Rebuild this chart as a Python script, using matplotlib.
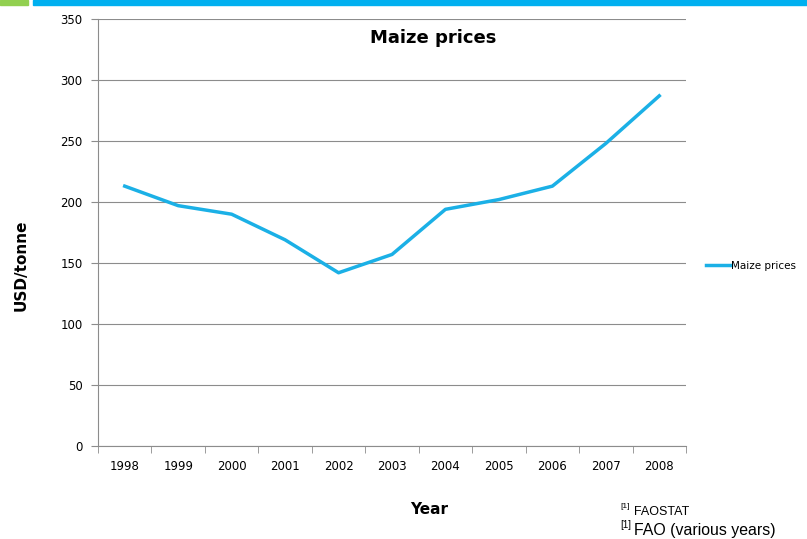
import matplotlib

matplotlib.use("Agg")
import matplotlib.pyplot as plt
from matplotlib.patches import Rectangle
from matplotlib.lines import Line2D

years = ["1998", "1999", "2000", "2001", "2002", "2003",
         "2004", "2005", "2006", "2007", "2008"]
prices = [213, 197, 190, 169, 142, 157, 194, 202, 213, 248, 287]
y_ticks = [0, 50, 100, 150, 200, 250, 300, 350]

LINE_C = "#1BB0E6"
GRID_C = "#8c8c8c"

plt.rcParams["font.family"] = ["DejaVu Sans"]

W, H = 807, 539
fig = plt.figure(figsize=(W / 100, H / 100), dpi=100)

# decorative bars at top
fig.patches.append(Rectangle((0, 1 - 5 / H), 28 / W, 5 / H, transform=fig.transFigure,
                             color="#92D050", zorder=0))
fig.patches.append(Rectangle((33 / W, 1 - 5 / H), 1 - 33 / W, 5 / H, transform=fig.transFigure,
                             color="#00B0F0", zorder=0))

left, right, top, bottom = 98, 686, 19, 446
ax = fig.add_axes([left / W, 1 - bottom / H, (right - left) / W, (bottom - top) / H])

x = list(range(len(years)))
ax.plot(x, prices, color=LINE_C, linewidth=2.5, label="Maize prices", solid_joinstyle="round")

ax.set_xlim(-0.5, len(years) - 0.5)
ax.set_ylim(0, 350)
ax.set_yticks(y_ticks)
ax.set_yticklabels([str(v) for v in y_ticks], fontsize=8.5)
ax.yaxis.grid(True, color=GRID_C, linewidth=0.8)
ax.set_axisbelow(True)

ax.set_xticks(x)
ax.set_xticklabels(years, fontsize=8.5)
ax.tick_params(axis="x", length=0, pad=10)
ax.set_xticks([i - 0.5 for i in range(len(years) + 1)], minor=True)
ax.tick_params(axis="x", which="minor", length=5, color=GRID_C, direction="out")
ax.tick_params(axis="y", length=5, color=GRID_C, direction="out", pad=6)

for s in ["top", "right"]:
    ax.spines[s].set_visible(False)
for s in ["left", "bottom"]:
    ax.spines[s].set_color(GRID_C)
    ax.spines[s].set_linewidth(0.8)

ax.text(0.57, 0.955, "Maize prices", transform=ax.transAxes, ha="center", va="center",
        fontsize=13, fontweight="bold")

fig.text(21 / W, 1 - 265 / H, "USD/tonne", rotation=90, ha="center", va="center",
         fontsize=11, fontweight="bold")
fig.text(429 / W, 1 - 509 / H, "Year", ha="center", va="center",
         fontsize=11, fontweight="bold")

handle = Line2D([0], [0], color=LINE_C, linewidth=2.5)
fig.legend([handle], ["Maize prices"], loc="center left",
           bbox_to_anchor=(706 / W, 1 - 266 / H), frameon=False, fontsize=7.5,
           handlelength=2.4, handletextpad=0.0, borderpad=0, borderaxespad=0)

# footnotes
fig.text(620 / W, 1 - 507 / H, "[1]", ha="left", va="center",
         fontsize=6, family="Liberation Sans")
fig.text(634 / W, 1 - 512 / H, "FAOSTAT", ha="left", va="center",
         fontsize=9, family="Liberation Sans")
fig.text(620 / W, 1 - 525 / H, "[1]", ha="left", va="center",
         fontsize=7, family="Liberation Sans")
fig.text(634 / W, 1 - 530 / H, "FAO (various years)", ha="left", va="center",
         fontsize=11.4, family="Liberation Sans")

fig.savefig("out.png", dpi=100)
